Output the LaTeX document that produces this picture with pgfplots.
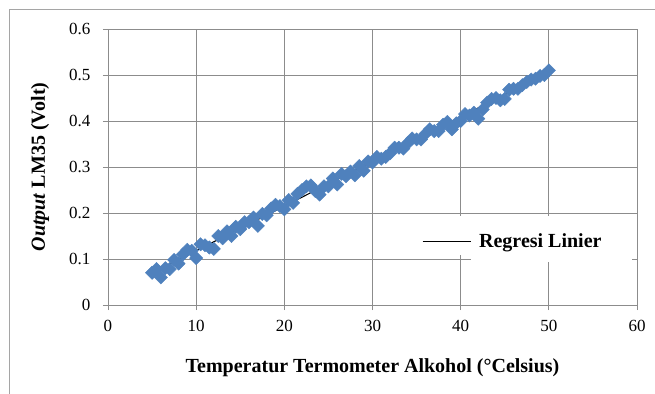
\documentclass[border=0pt]{standalone}
\usepackage{fontspec}
\setmainfont{Liberation Serif}
\usepackage{pgfplots}
\pgfplotsset{compat=1.18}
\definecolor{mk}{RGB}{79,129,189}
\definecolor{gr}{RGB}{140,140,140}
\definecolor{fr}{RGB}{165,165,165}
\pgfplotstableread{
x y
5 0.070
5.5 0.078
6 0.060
6.5 0.080
7 0.078
7.5 0.098
8 0.090
8.5 0.110
9 0.120
9.5 0.118
10 0.102
10.5 0.132
11 0.130
11.5 0.125
12 0.122
12.5 0.150
13 0.145
13.5 0.160
14 0.150
14.5 0.170
15 0.165
15.5 0.180
16 0.180
16.5 0.190
17 0.172
17.5 0.198
18 0.195
18.5 0.210
19 0.218
19.5 0.215
20 0.208
20.5 0.228
21 0.222
21.5 0.242
22 0.250
22.5 0.258
23 0.260
23.5 0.248
24 0.240
24.5 0.258
25 0.258
25.5 0.275
26 0.262
26.5 0.285
27 0.280
27.5 0.290
28 0.282
28.5 0.302
29 0.292
29.5 0.312
30 0.310
30.5 0.322
31 0.318
31.5 0.322
32 0.330
32.5 0.342
33 0.342
33.5 0.340
34 0.352
34.5 0.362
35 0.360
35.5 0.360
36 0.372
36.5 0.382
37 0.378
37.5 0.378
38 0.392
38.5 0.398
39 0.382
39.5 0.395
40 0.400
40.5 0.415
41 0.412
41.5 0.418
42 0.405
42.5 0.425
43 0.440
43.5 0.448
44 0.450
44.5 0.445
45 0.448
45.5 0.468
46 0.470
46.5 0.470
47 0.478
47.5 0.485
48 0.490
48.5 0.492
49 0.498
49.5 0.500
50 0.510
}\pts
\begin{document}
\begin{tikzpicture}
\begin{axis}[
 name=ax,
 scale only axis, width=529bp, height=276bp,
 xmin=0, xmax=60, ymin=0, ymax=0.6,
 xtick={0,10,20,30,40,50,60},
 ytick={0,0.1,0.2,0.3,0.4,0.5,0.6},
 grid=major, grid style={gr, line width=0.9bp},
 axis line style={gr, line width=0.9bp},
 tick style={gr, line width=0.9bp},
 tick align=outside, tick pos=left, major tick length=5bp,
 /pgf/number format/assume math mode=true,
 ticklabel style={font=\fontsize{17bp}{20bp}\selectfont},
 xticklabel style={yshift=-7bp},
 yticklabel style={xshift=-9bp},
 xlabel={\textbf{Temperatur Termometer Alkohol (°Celsius)}},
 ylabel={\textbf{\textit{Output} LM35 (Volt)}},
 label style={font=\fontsize{20bp}{24bp}\selectfont},
 xlabel style={at={(axis description cs:0.5,-0.228)}, anchor=center},
 ylabel style={at={(axis description cs:-0.1285,0.5)}, anchor=center},
 legend style={at={(axis cs:35.6,0.139)}, anchor=west, draw=none, fill=none,
   font=\fontsize{20bp}{24bp}\selectfont\bfseries, inner sep=0pt, column sep=6bp},
 legend image code/.code={\draw[#1] (0bp,0bp) -- (48bp,0bp);},
 clip=false,
]
\fill[white] (axis cs:41.2,0.093) rectangle (axis cs:59.4,0.1935);
\fill[white] (axis cs:39.5,0.108) rectangle (axis cs:41.3,0.1935);
\addplot[only marks, mark=square*, mark size=4.7bp, mark options={rotate=45, fill=mk, draw=mk}, forget plot] table[x=x,y=y] {\pts};
\addplot[black, line width=1.1bp] coordinates {(5,0.0695) (50,0.506)};
\addlegendentry{Regresi Linier}
\coordinate (ll) at (rel axis cs:0,0);
\end{axis}
\draw[fr, line width=1bp] ([shift={(-98bp,-89bp)}]ll) -- ([shift={(-98bp,295bp)}]ll) -- ([shift={(547bp,295bp)}]ll);
\pgfresetboundingbox
\useasboundingbox ([shift={(-108bp,-89bp)}]ll) rectangle ([shift={(547bp,305bp)}]ll);
\end{tikzpicture}
\end{document}
